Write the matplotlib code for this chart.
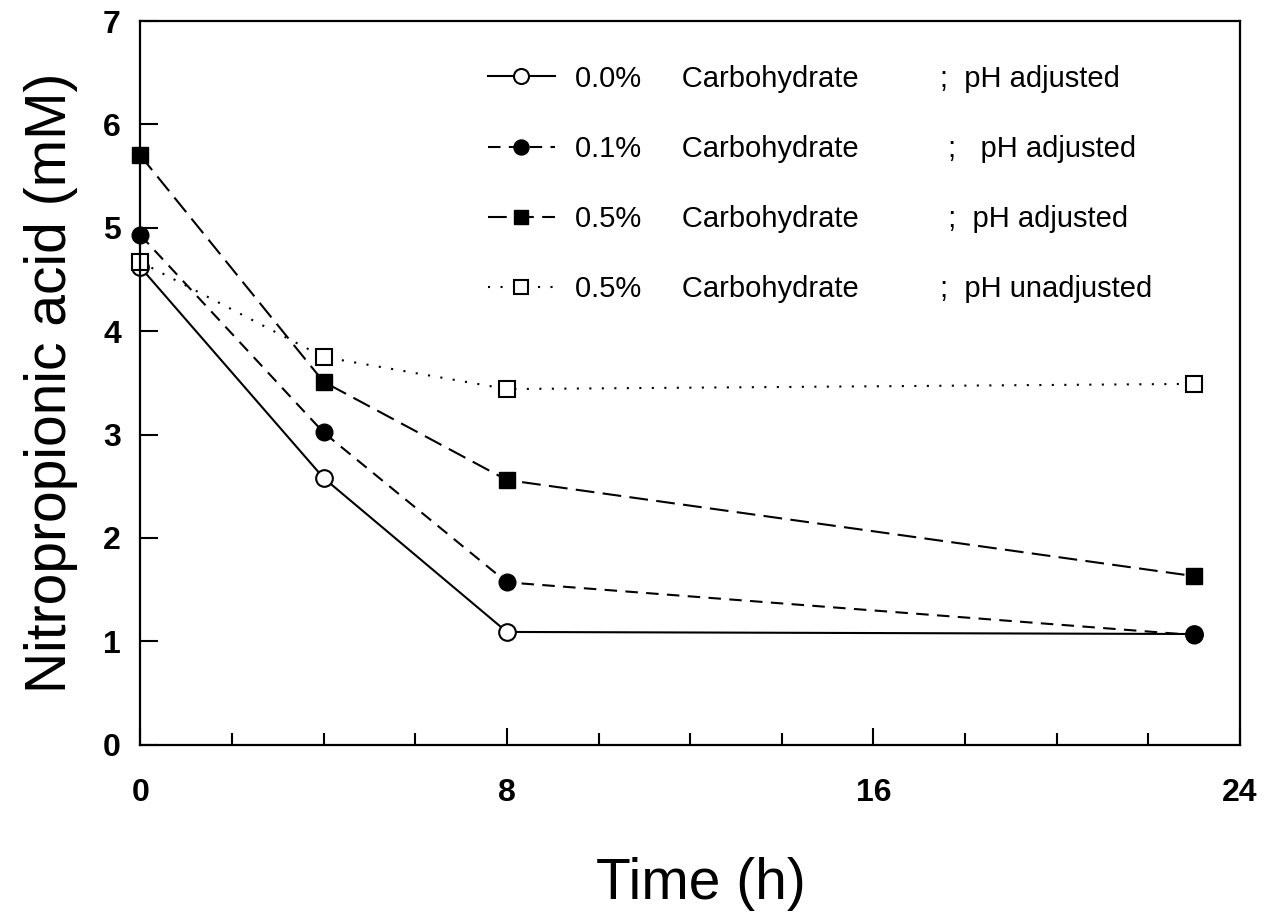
import matplotlib
matplotlib.use('Agg')
import matplotlib.pyplot as plt
from matplotlib.ticker import MultipleLocator

plt.rcParams['font.family'] = ['Liberation Sans', 'DejaVu Sans']

time_h = [0, 4, 8, 23]
carb00_adj = [4.62, 2.58, 1.09, 1.07]
carb01_adj = [4.93, 3.02, 1.57, 1.06]
carb05_adj = [5.70, 3.51, 2.56, 1.63]
carb05_unadj = [4.67, 3.75, 3.44, 3.49]

labels = ['0.0%     Carbohydrate          ;  pH adjusted',
          '0.1%     Carbohydrate           ;   pH adjusted',
          '0.5%     Carbohydrate           ;  pH adjusted',
          '0.5%     Carbohydrate          ;  pH unadjusted']

fig = plt.figure(figsize=(12.64, 9.17), dpi=100)
ax = fig.add_axes([0.111, 0.188, 0.870, 0.789])

ax.plot(time_h, carb00_adj, color='black', lw=1.5, ls='-', clip_on=False,
        marker='o', ms=12, mfc='white', mec='black', mew=1.5, label=labels[0])
ax.plot(time_h, carb01_adj, color='black', lw=1.5, ls=(0, (6, 4)), clip_on=False,
        marker='o', ms=12, mfc='black', mec='black', label=labels[1])
ax.plot(time_h, carb05_adj, color='black', lw=1.5, ls=(0, (9, 4)), clip_on=False,
        marker='s', ms=11.5, mfc='black', mec='black', label=labels[2])
ax.plot(time_h, carb05_unadj, color='black', lw=1.5, ls=(0, (1, 5)), clip_on=False,
        marker='s', ms=11.5, mfc='white', mec='black', mew=1.5, label=labels[3])

ax.set_xlim(0, 24)
ax.set_ylim(0, 7)
ax.xaxis.set_major_locator(MultipleLocator(8))
ax.xaxis.set_minor_locator(MultipleLocator(2))
ax.yaxis.set_major_locator(MultipleLocator(1))
ax.tick_params(axis='both', which='both', direction='in', top=False, right=False,
               labelsize=23, width=1.5)
ax.tick_params(axis='x', which='major', length=12, pad=24)
ax.tick_params(axis='x', which='minor', length=9)
ax.tick_params(axis='y', which='major', length=13, pad=14)
for lbl in ax.get_xticklabels() + ax.get_yticklabels():
    lbl.set_fontweight('bold')
for s in ax.spines.values():
    s.set_linewidth(1.6)

ax.set_xlabel('Time (h)', fontsize=41, labelpad=40)
ax.xaxis.set_label_coords(0.51, -0.155)
ax.set_ylabel('Nitropropionic acid (mM)', fontsize=41, labelpad=18)

ax.legend(loc='upper left', bbox_to_anchor=(0.316, 0.94), frameon=False,
          fontsize=21, handlelength=2.3, handletextpad=0.7, labelspacing=1.45,
          borderpad=0, borderaxespad=0, markerscale=0.9)

fig.savefig('out.png', dpi=100)
